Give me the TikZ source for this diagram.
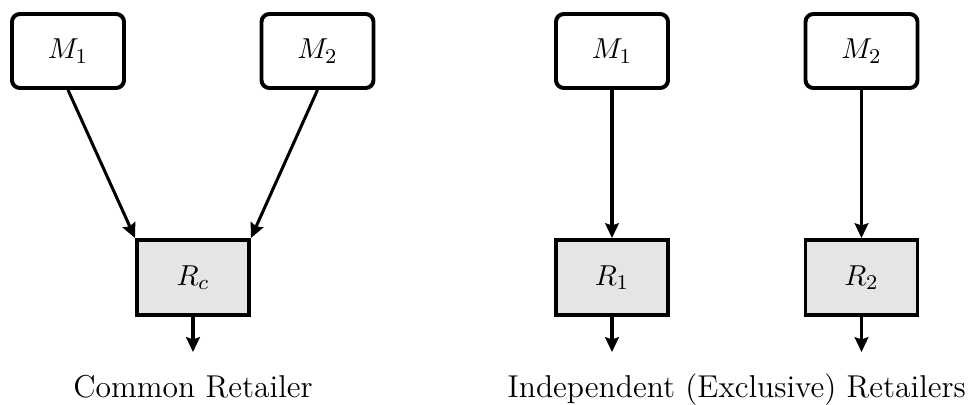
\documentclass[tikz,border=0pt]{standalone}
\usetikzlibrary{arrows.meta}
\begin{document}
\begin{tikzpicture}[x=0.38pt,y=-0.38pt,
  mbox/.style={draw,rounded corners=3pt,line width=1.5pt,minimum width=112*0.38pt,minimum height=74*0.38pt,inner sep=0pt,font=\fontsize{11}{13}\selectfont},
  rbox/.style={draw,fill=gray!20,line width=1.5pt,minimum width=112*0.38pt,minimum height=75*0.38pt,inner sep=0pt,font=\fontsize{11}{13}\selectfont},
  arr/.style={line width=1.15pt,-{Stealth[length=5.6pt,width=5.2pt,inset=0.8pt]}},
  captext/.style={anchor=base,font=\large,inner sep=0pt}]
\useasboundingbox (0,0) rectangle (969,404);
% left
\node[mbox] (m1l) at (68,51) {$M_1$};
\node[mbox] (m2l) at (317.5,51) {$M_2$};
\node[rbox] (rc) at (193,277.5) {$R_c$};
\coordinate (oc) at (193,352);
\draw[arr] (m1l.south) -- (rc.north west);
\draw[arr] (m2l.south) -- (rc.north east);
\draw[arr] (rc.south) -- (oc);
\node[captext] (capl) at (193,397) {Common Retailer};
% right
\node[mbox] (m1r) at (612,51) {$M_1$};
\node[mbox] (m2r) at (861.5,51) {$M_2$};
\node[rbox] (r1) at (612,277.5) {$R_1$};
\node[rbox] (r2) at (861.5,277.5) {$R_2$};
\coordinate (o1) at (612,352);
\coordinate (o2) at (861.5,352);
\draw[arr] (m1r) -- (r1);
\draw[arr] (m2r) -- (r2);
\draw[arr] (r1.south) -- (o1);
\draw[arr] (r2.south) -- (o2);
\node[captext] (capr) at (736.75,397) {Independent (Exclusive) Retailers};
\end{tikzpicture}
\end{document}
